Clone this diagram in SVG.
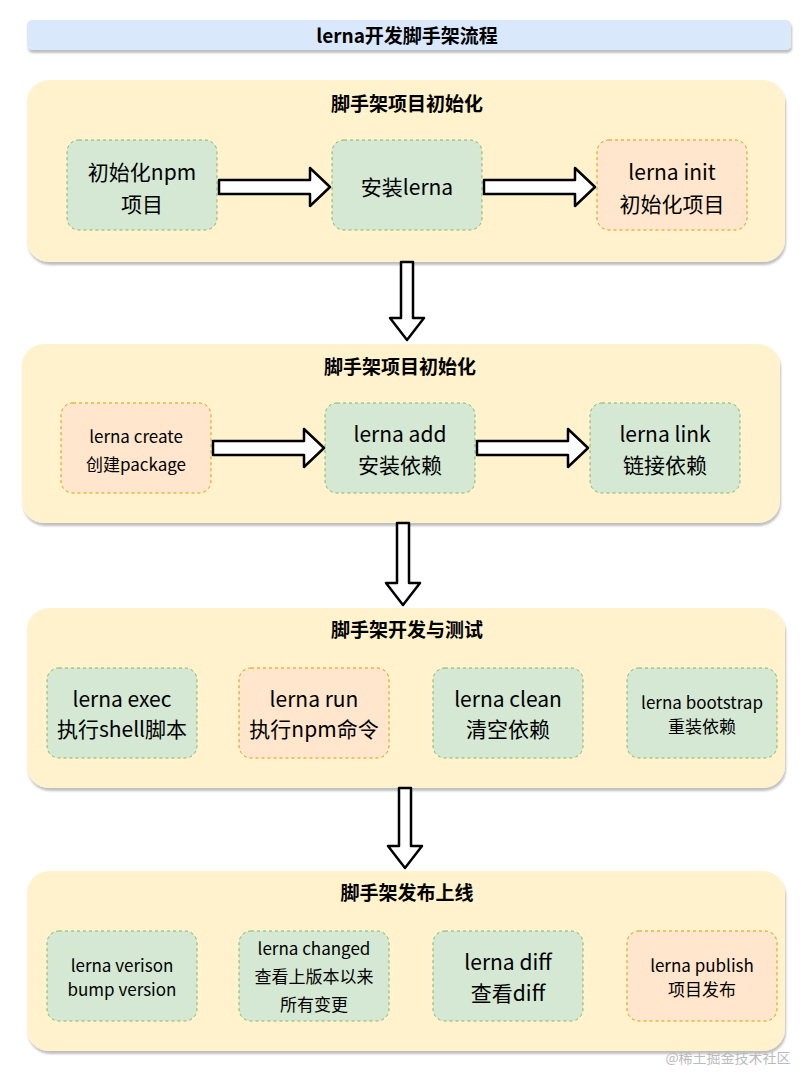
<svg xmlns="http://www.w3.org/2000/svg" width="809" height="1074" viewBox="0 0 809 1074">
<style>
text{font-family:"Noto Sans CJK SC","Noto Sans",sans-serif;text-anchor:middle;fill:#000}
.sec{fill:#fff2cc;stroke:#d6b656;stroke-width:0;filter:url(#sh)}
.t{font-size:19px;font-weight:bold}
.g{fill:#d5e8d4;stroke:#82b366;stroke-dasharray:3 3}
.o{fill:#ffe6cc;stroke:#d79b00;stroke-dasharray:3 3}
.n{font-size:21px}
.s{font-size:17px}
.a{fill:#fff;stroke:#000;stroke-width:2.5;stroke-linejoin:round}
</style>
<defs><filter id="sh" x="-5%" y="-5%" width="110%" height="120%"><feDropShadow dx="1" dy="3" stdDeviation="1" flood-color="#000" flood-opacity="0.25"/></filter></defs>
<rect width="809" height="1074" fill="#fff"/>
<g id="title"><rect x="27" y="20" width="764" height="30" rx="5" fill="#dae8fc" filter="url(#sh)"/><text x="407" y="43" class="t">lerna开发脚手架流程</text></g>
<g id="s1"><rect class="sec" x="27" y="80" width="758" height="182" rx="22"/><text x="407" y="111" class="t">脚手架项目初始化</text></g>
<g id="n11"><rect class="g" x="67" y="140" width="150" height="90" rx="12"/><text x="142" y="180" class="n">初始化npm</text><text x="142" y="212" class="n">项目</text></g>
<g id="n12"><rect class="g" x="332" y="140" width="150" height="90" rx="12"/><text x="407" y="195" class="n">安装lerna</text></g>
<g id="n13"><rect class="o" x="597" y="140" width="150" height="90" rx="12"/><text x="672" y="180" class="n">lerna init</text><text x="672" y="212" class="n">初始化项目</text></g>
<g id="s2"><rect class="sec" x="22" y="344" width="758" height="179" rx="22"/><text x="400" y="374" class="t">脚手架项目初始化</text></g>
<g id="n21"><rect class="o" x="61" y="403" width="150" height="90" rx="12"/><text x="136" y="443" class="s">lerna create</text><text x="136" y="471" class="s">创建package</text></g>
<g id="n22"><rect class="g" x="325" y="403" width="150" height="90" rx="12"/><text x="400" y="442" class="n">lerna add</text><text x="400" y="473" class="n">安装依赖</text></g>
<g id="n23"><rect class="g" x="590" y="403" width="150" height="90" rx="12"/><text x="665" y="442" class="n">lerna link</text><text x="665" y="473" class="n">链接依赖</text></g>
<g id="s3"><rect class="sec" x="27" y="608" width="758" height="180" rx="22"/><text x="407" y="637" class="t">脚手架开发与测试</text></g>
<g id="n31"><rect class="g" x="47" y="668" width="150" height="90" rx="12"/><text x="122" y="707" class="n">lerna exec</text><text x="122" y="737" class="n">执行shell脚本</text></g>
<g id="n32"><rect class="o" x="239" y="668" width="150" height="90" rx="12"/><text x="314" y="707" class="n">lerna run</text><text x="314" y="737" class="n">执行npm命令</text></g>
<g id="n33"><rect class="g" x="433" y="668" width="150" height="90" rx="12"/><text x="508" y="707" class="n">lerna clean</text><text x="508" y="737" class="n">清空依赖</text></g>
<g id="n34"><rect class="g" x="627" y="668" width="150" height="90" rx="12"/><text x="702" y="709" class="s">lerna bootstrap</text><text x="702" y="733" class="s">重装依赖</text></g>
<g id="s4"><rect class="sec" x="27" y="871" width="758" height="180" rx="22"/><text x="407" y="900" class="t">脚手架发布上线</text></g>
<g id="n41"><rect class="g" x="47" y="931" width="150" height="90" rx="12"/><text x="122" y="972" class="s">lerna verison</text><text x="122" y="996" class="s">bump version</text></g>
<g id="n42"><rect class="g" x="239" y="931" width="150" height="90" rx="12"/><text x="314" y="955" class="s">lerna changed</text><text x="314" y="983" class="s">查看上版本以来</text><text x="314" y="1011" class="s">所有变更</text></g>
<g id="n43"><rect class="g" x="433" y="931" width="150" height="90" rx="12"/><text x="508" y="970" class="n">lerna diff</text><text x="508" y="1001" class="n">查看diff</text></g>
<g id="n44"><rect class="o" x="627" y="931" width="150" height="90" rx="12"/><text x="702" y="972" class="s">lerna publish</text><text x="702" y="996" class="s">项目发布</text></g>
<g id="connectors">
<path class="a" d="M219 180 L310 180 L310 168 L330 187 L310 206 L310 194 L219 194 Z"/>
<path class="a" d="M484 180 L575 180 L575 168 L595 187 L575 206 L575 194 L484 194 Z"/>
<path class="a" d="M213 441 L304 441 L304 429 L324 448 L304 467 L304 455 L213 455 Z"/>
<path class="a" d="M477 441 L568 441 L568 429 L588 448 L568 467 L568 455 L477 455 Z"/>
<path class="a" d="M401 262 L413 262 L413 318 L424 318 L407 340 L390 318 L401 318 Z"/>
<path class="a" d="M397 523 L409 523 L409 583 L420 583 L403 605 L386 583 L397 583 Z"/>
<path class="a" d="M399 788 L411 788 L411 846 L422 846 L405 868 L388 846 L399 846 Z"/>
</g>
<text x="728" y="1063" style="font-size:14px;fill:#bbb">@稀土掘金技术社区</text>
</svg>
